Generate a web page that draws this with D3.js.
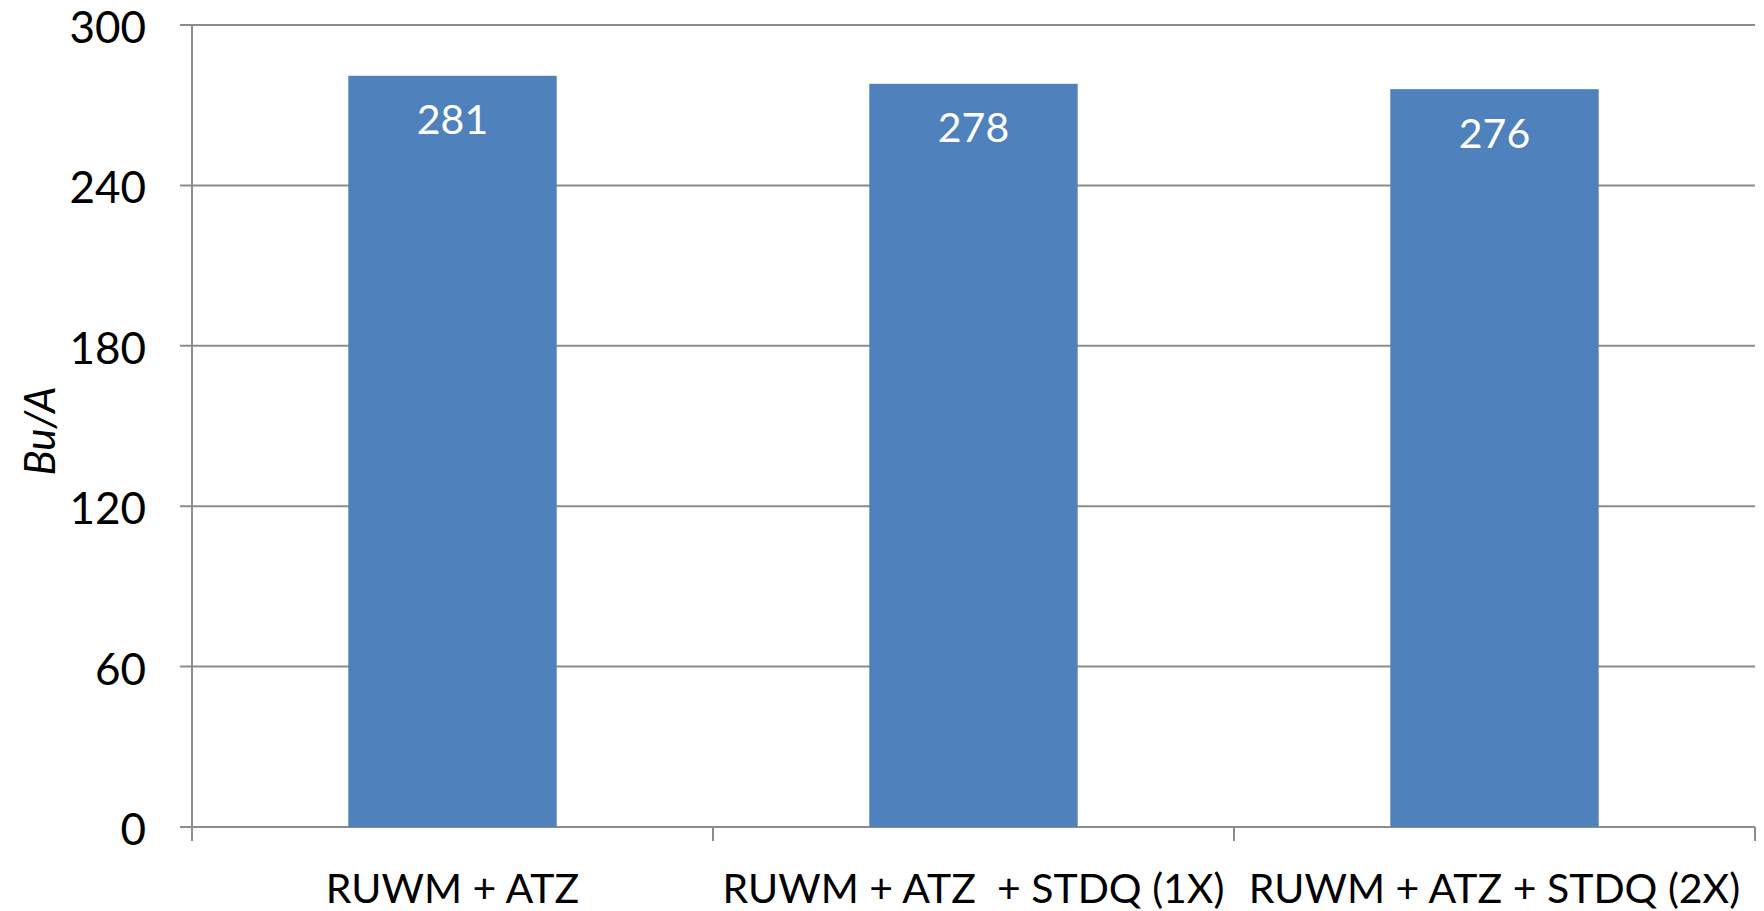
<!DOCTYPE html>
<html>
<head>
<meta charset="utf-8">
<script src="https://cdn.jsdelivr.net/npm/d3@7"></script>
<style>
  body { margin: 0; background: #fff; }
  text { font-family: Lato, "Open Sans", sans-serif; }
</style>
</head>
<body>
<div id="grafico"></div>
<script>
var categories = ["RUWM + ATZ", "RUWM + ATZ  + STDQ (1X)", "RUWM + ATZ + STDQ (2X)"];
var values = [281, 278, 276];
var yTicks = [0, 60, 120, 180, 240, 300];

function chart() {
    var width = 1764,
        height = 911;
    var margin = {top: 25, right: 9, bottom: 84, left: 192};

    var svg = d3.select("#grafico").append("svg")
        .attr("width", width)
        .attr("height", height)
        .append("g")
        .attr("transform", "translate(" + margin.left + "," + margin.top + ")");

    var w = width - margin.left - margin.right,
        h = height - margin.top - margin.bottom;

    var x = d3.scaleBand().domain(categories).range([0, w])
        .paddingInner(0.6).paddingOuter(0.3);
    var y = d3.scaleLinear().domain([0, 300]).range([h, 0]);

    // gridlines
    svg.selectAll(".grid")
        .data(yTicks)
        .enter()
        .append("line")
        .attr("x1", -12)
        .attr("x2", w)
        .attr("y1", function(d) { return y(d) })
        .attr("y2", function(d) { return y(d) })
        .attr("stroke", "#8c8c8c")
        .attr("stroke-width", 2)

    // bars
    svg.selectAll(".bar")
        .data(values)
        .enter()
        .append("rect")
        .attr("x", function(d, i) { return x(categories[i]) })
        .attr("y", function(d) { return y(d) })
        .attr("width", x.bandwidth())
        .attr("height", function(d) { return h - y(d) })
        .attr("fill", "#4F81BD")

    // value labels
    svg.selectAll(".val")
        .data(values)
        .enter()
        .append("text")
        .attr("x", function(d, i) { return x(categories[i]) + x.bandwidth() / 2 })
        .attr("y", function(d) { return y(d) + 43 })
        .attr("text-anchor", "middle")
        .attr("dominant-baseline", "central")
        .attr("fill", "#fff")
        .attr("font-size", 41)
        .text(function(d) { return d })

    // y axis
    svg.append("line")
        .attr("x1", 0).attr("x2", 0)
        .attr("y1", 0).attr("y2", h)
        .attr("stroke", "#8c8c8c")
        .attr("stroke-width", 2)

    svg.selectAll(".ylab")
        .data(yTicks)
        .enter()
        .append("text")
        .attr("x", -46)
        .attr("y", function(d) { return y(d) + 1 })
        .attr("text-anchor", "end")
        .attr("dominant-baseline", "central")
        .attr("font-size", 44)
        .attr("fill", "#000")
        .text(function(d) { return d })

    // x axis ticks between categories
    var xTickPos = d3.range(categories.length + 1).map(function(i) { return i * w / categories.length });
    svg.selectAll(".xtick")
        .data(xTickPos)
        .enter()
        .append("line")
        .attr("x1", function(d) { return d })
        .attr("x2", function(d) { return d })
        .attr("y1", h)
        .attr("y2", h + 14)
        .attr("stroke", "#8c8c8c")
        .attr("stroke-width", 2)

    svg.selectAll(".xlab")
        .data(categories)
        .enter()
        .append("text")
        .attr("x", function(d) { return x(d) + x.bandwidth() / 2 })
        .attr("y", h + 60)
        .attr("text-anchor", "middle")
        .attr("dominant-baseline", "central")
        .attr("font-size", 41)
        .attr("fill", "#000")
        .style("white-space", "pre")
        .text(function(d) { return d })

    // y axis title
    svg.append("text")
        .attr("transform", "translate(" + (-153) + "," + (h / 2 + 5) + ") rotate(-90)")
        .attr("text-anchor", "middle")
        .attr("dominant-baseline", "central")
        .attr("font-size", 42)
        .attr("font-style", "italic")
        .text("Bu/A")
}
chart();
</script>
</body>
</html>
